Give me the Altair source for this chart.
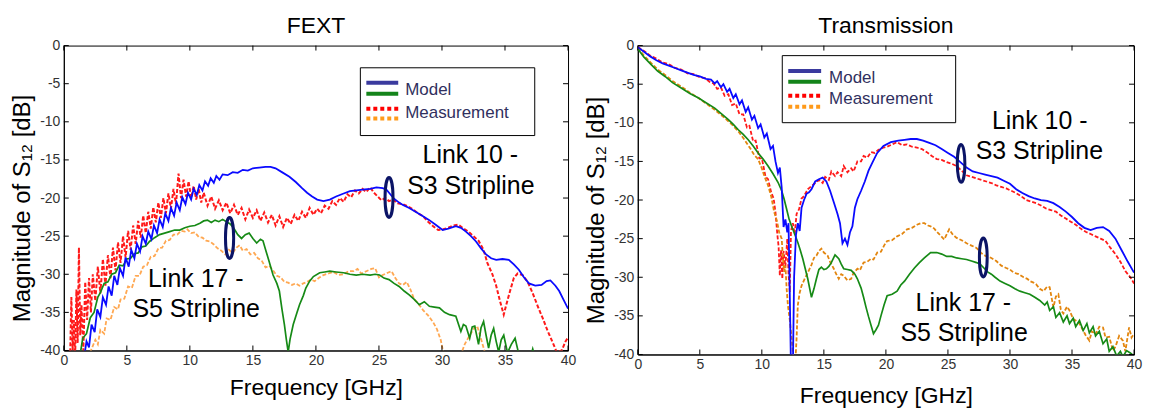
import altair as alt
import pandas as pd

FONT = "Liberation Sans"

# ---------------- data (frequency GHz, magnitude dB) ----------------
X_TICKS = [0, 5, 10, 15, 20, 25, 30, 35, 40]
Y_TICKS = [0, -5, -10, -15, -20, -25, -30, -35, -40]

FEXT_L10_MODEL = [
    (1.6, -41), (1.8, -38.8), (2.0, -39.6), (2.2, -36.6), (2.45, -37.6), (2.65, -34.6), (2.9, -35.6),
    (3.1, -33.0), (3.35, -34.0), (3.55, -31.6), (3.8, -32.8), (4.0, -30.2), (4.25, -31.4), (4.45, -29.2),
    (4.7, -30.2), (4.9, -27.8), (5.15, -29.0), (5.35, -26.8), (5.6, -27.9), (5.8, -26.0), (6.05, -27.0),
    (6.25, -25.0), (6.5, -26.0), (6.7, -24.4), (6.95, -25.4), (7.15, -23.6), (7.4, -24.6), (7.6, -22.8),
    (7.85, -23.8), (8.05, -22.0), (8.3, -23.0), (8.5, -21.3), (8.75, -22.3), (8.95, -20.6), (9.2, -21.6),
    (9.4, -19.9), (9.65, -20.8), (9.85, -19.3), (10.1, -20.2), (10.3, -18.8), (10.55, -19.6), (10.75, -18.3),
    (11.0, -19.0), (11.2, -17.8), (11.45, -18.4), (11.65, -17.4), (11.9, -18.0), (12.1, -17.1), (12.35, -17.6),
    (12.6, -16.9), (13.0, -17.0), (13.4, -16.6), (13.8, -16.7), (14.2, -16.3), (14.6, -16.4), (15.0, -16.1),
    (15.5, -16.0), (16.0, -15.9), (16.4, -15.9), (16.8, -16.1), (17.3, -16.6), (17.9, -17.2), (18.4, -17.9),
    (18.9, -18.7), (19.3, -19.3), (19.7, -19.8), (20.1, -20.2), (20.6, -20.4), (21.1, -20.2), (21.6, -19.8),
    (22.2, -19.4), (22.7, -19.1), (23.2, -19.0), (23.7, -18.9), (24.3, -18.8), (24.8, -18.6), (25.3, -18.7),
    (25.6, -18.9), (25.9, -19.5), (26.2, -20.1), (26.6, -20.6), (26.9, -20.9), (27.4, -21.3), (27.9, -21.8),
    (28.4, -22.3), (29.0, -22.9), (29.5, -23.5), (30.05, -24.2), (30.5, -24.0), (31.1, -23.7), (31.5, -23.9),
    (31.9, -24.4), (32.3, -25.0), (32.7, -25.7), (33.1, -26.6), (33.5, -27.4), (33.9, -27.9), (34.3, -28.1),
    (34.8, -28.0), (35.3, -28.1), (35.7, -28.7), (36.1, -29.4), (36.5, -30.4), (36.9, -31.2), (37.4, -31.5),
    (37.9, -31.4), (38.3, -30.9), (38.6, -30.8), (39.0, -31.5), (39.3, -32.2), (39.6, -33.2), (40.0, -34.5),
]

FEXT_L10_MEAS = [
    (0.5, -41), (0.6, -33), (0.7, -40), (0.8, -36), (0.9, -41), (1.0, -32), (1.1, -39), (1.2, -26.5),
    (1.3, -38), (1.4, -34), (1.55, -40), (1.7, -31), (1.85, -36), (2.0, -30.5), (2.15, -35), (2.3, -30),
    (2.5, -33.5), (2.7, -29), (2.9, -32.5), (3.1, -28), (3.3, -31.5), (3.5, -27.5), (3.7, -30.5), (3.9, -26.5),
    (4.1, -29.5), (4.3, -25.8), (4.5, -28.5), (4.7, -25.0), (4.9, -27.8), (5.1, -24.3), (5.3, -26.8),
    (5.5, -23.6), (5.7, -26.0), (5.9, -23.0), (6.1, -25.2), (6.3, -22.3), (6.5, -24.6), (6.7, -21.8),
    (6.9, -24.0), (7.1, -21.2), (7.3, -23.2), (7.5, -20.6), (7.7, -22.6), (7.9, -20.0), (8.1, -22.0),
    (8.3, -19.4), (8.5, -21.4), (8.7, -18.8), (8.9, -20.8), (9.1, -16.8), (9.3, -20.0), (9.5, -17.6),
    (9.7, -19.8), (9.9, -17.8), (10.1, -20.0), (10.3, -18.4), (10.5, -20.2), (10.7, -18.8), (10.9, -20.6),
    (11.1, -19.3), (11.4, -21.0), (11.7, -19.8), (12.0, -21.4), (12.3, -20.3), (12.6, -21.6), (12.9, -20.6),
    (13.2, -22.0), (13.5, -20.9), (13.8, -22.2), (14.1, -21.3), (14.4, -22.8), (14.7, -21.5), (15.0, -22.6),
    (15.3, -21.6), (15.6, -23.0), (15.9, -21.9), (16.2, -23.2), (16.5, -22.2), (16.8, -23.6), (17.1, -22.4),
    (17.4, -23.8), (17.7, -22.6), (18.0, -23.4), (18.3, -22.2), (18.6, -23.0), (18.9, -21.8), (19.2, -22.6),
    (19.5, -21.3), (19.8, -22.2), (20.1, -21.4), (20.4, -22.0), (20.7, -21.0), (21.0, -21.4), (21.3, -20.4),
    (21.6, -20.9), (21.9, -20.0), (22.2, -20.5), (22.5, -19.5), (22.8, -19.9), (23.1, -19.0), (23.4, -19.4),
    (23.7, -18.8), (24.0, -19.2), (24.3, -18.6), (24.6, -19.3), (24.9, -19.8), (25.2, -20.3), (25.5, -20.0),
    (25.8, -20.4), (26.1, -20.2), (26.5, -20.7), (26.9, -20.8), (27.3, -21.1), (27.7, -21.5), (28.1, -22.0),
    (28.5, -22.4), (28.9, -23.1), (29.3, -23.7), (29.7, -24.2), (30.1, -24.1), (30.5, -23.9), (30.9, -23.6),
    (31.3, -23.5), (31.7, -24.0), (32.1, -24.4), (32.5, -25.0), (32.9, -25.6), (33.3, -26.8), (33.6, -28.5),
    (34.0, -30.0), (34.3, -31.5), (34.6, -33.5), (34.9, -35.3), (35.1, -34.0), (35.4, -32.2), (35.7, -30.5),
    (36.0, -29.9), (36.4, -30.1), (36.8, -31.0), (37.2, -32.5), (37.6, -34.2), (38.0, -35.8), (38.4, -37.5),
    (38.8, -39.0), (39.1, -40.2), (39.5, -40.0), (39.8, -38.8), (40.0, -38.3),
]

FEXT_L17_MODEL = [
    (1.3, -40.5), (1.5, -38.4), (1.8, -37.8), (2.1, -35.7), (2.4, -35.0), (2.7, -33.0), (2.9, -32.4),
    (3.2, -31.2), (3.5, -31.0), (3.8, -30.0), (4.1, -29.8), (4.4, -28.8), (4.7, -28.9), (5.0, -28.0),
    (5.3, -27.9), (5.6, -27.3), (5.9, -27.2), (6.2, -26.4), (6.5, -26.3), (6.8, -25.7), (7.2, -25.2),
    (7.6, -24.8), (8.0, -24.6), (8.4, -24.4), (8.8, -24.2), (9.2, -24.2), (9.6, -23.9), (10.0, -23.7),
    (10.4, -23.6), (10.8, -23.3), (11.1, -23.0), (11.4, -22.9), (11.7, -23.2), (12.0, -22.9), (12.3, -23.1),
    (12.6, -22.8), (12.9, -23.1), (13.2, -23.4), (13.5, -24.0), (13.8, -24.8), (14.1, -25.3), (14.4, -24.8),
    (14.7, -24.6), (15.0, -25.3), (15.3, -25.9), (15.6, -25.4), (15.8, -25.6), (16.05, -27.0), (16.3, -28.4),
    (16.6, -30.1), (16.9, -31.2), (17.1, -32.2), (17.3, -34.5), (17.5, -36.6), (17.65, -38.5), (17.8, -40.2),
    (17.95, -38.5), (18.2, -36.6), (18.5, -35.0), (18.7, -34.0), (19.0, -32.8), (19.2, -31.8), (19.5, -30.9),
    (19.8, -30.3), (20.3, -29.8), (20.7, -29.7), (21.1, -29.6), (21.6, -29.7), (22.2, -29.8), (22.7, -30.0),
    (23.2, -30.1), (23.7, -30.0), (24.3, -30.1), (24.7, -30.0), (25.05, -30.1), (25.4, -30.5), (25.8, -30.7),
    (26.2, -31.2), (26.6, -31.6), (27.0, -32.2), (27.4, -32.7), (27.8, -33.3), (28.2, -34.0), (28.6, -33.6),
    (29.0, -34.2), (29.4, -34.3), (29.8, -34.4), (30.2, -35.0), (30.6, -35.3), (31.1, -35.5), (31.5, -37.5),
    (31.7, -36.6), (31.9, -36.8), (32.2, -38.4), (32.4, -36.9), (32.6, -36.8), (32.9, -39.2), (33.1, -37.0),
    (33.3, -36.2), (33.5, -38.0), (33.7, -39.7), (33.9, -38.0), (34.1, -37.1), (34.3, -38.8), (34.5, -40.2),
    (34.7, -38.6), (34.9, -38.0), (35.2, -40.3), (35.5, -39.2), (35.8, -38.4), (36.1, -40.5), (36.4, -41),
    (37.0, -41), (37.2, -39.8), (37.4, -41), (38.0, -42), (40.0, -42),
]

FEXT_L17_MEAS = [
    (1.9, -41), (2.2, -39.8), (2.5, -38.6), (2.7, -39.2), (2.9, -37.3), (3.2, -37.8), (3.4, -35.8),
    (3.7, -36.0), (4.0, -34.3), (4.3, -34.6), (4.5, -33.3), (4.8, -33.2), (5.1, -31.6), (5.4, -31.8),
    (5.7, -30.2), (6.0, -30.2), (6.3, -29.0), (6.6, -28.8), (6.9, -27.7), (7.2, -27.6), (7.5, -26.6),
    (7.8, -26.5), (8.1, -25.6), (8.4, -25.5), (8.7, -24.8), (9.0, -24.8), (9.3, -24.3), (9.6, -24.4),
    (9.8, -24.1), (10.1, -24.6), (10.4, -24.5), (10.7, -25.1), (11.0, -25.2), (11.3, -25.6), (11.6, -25.7),
    (11.9, -26.1), (12.2, -26.6), (12.5, -26.9), (12.8, -27.4), (13.1, -26.8), (13.4, -27.2), (13.7, -26.5),
    (13.95, -26.2), (14.2, -26.9), (14.5, -26.7), (14.8, -27.4), (15.1, -27.2), (15.4, -27.9), (15.7, -28.2),
    (16.0, -29.1), (16.3, -28.9), (16.6, -29.5), (16.9, -30.2), (17.2, -30.4), (17.5, -31.0), (17.8, -31.1),
    (18.1, -31.4), (18.4, -31.2), (18.7, -31.5), (19.0, -31.2), (19.3, -31.0), (19.6, -30.7), (19.9, -30.9),
    (20.3, -30.4), (20.6, -30.1), (21.0, -29.9), (21.4, -29.7), (21.8, -30.1), (22.2, -30.0), (22.6, -29.6),
    (23.0, -29.6), (23.3, -29.3), (23.6, -29.9), (24.0, -29.6), (24.4, -29.3), (24.7, -29.2), (25.0, -30.4),
    (25.3, -30.1), (25.7, -29.8), (26.0, -29.6), (26.3, -30.5), (26.6, -31.2), (26.9, -31.4), (27.2, -31.0),
    (27.5, -32.0), (27.8, -33.3), (28.1, -33.8), (28.5, -34.7), (28.9, -35.4), (29.3, -36.3), (29.6, -37.2),
    (29.9, -38.6), (30.1, -40.2), (30.5, -41), (31.0, -40.6), (31.4, -41), (31.8, -39.2), (32.2, -38.0),
    (32.5, -37.2), (32.8, -36.8), (33.1, -38.5), (33.4, -40.2), (33.8, -41), (40.0, -41),
]

TRANS_L10_MODEL = [
    (0.0, -0.2), (0.5, -0.8), (1.0, -1.4), (1.5, -1.9), (2.0, -2.3), (2.5, -2.6), (3.0, -2.9), (3.5, -3.2),
    (4.0, -3.5), (4.5, -3.8), (5.0, -4.0), (5.5, -4.3), (5.9, -4.4), (6.2, -4.9), (6.4, -4.6), (6.7, -5.4),
    (6.9, -5.0), (7.2, -6.0), (7.4, -5.6), (7.7, -6.8), (7.9, -6.3), (8.2, -7.6), (8.4, -7.1), (8.7, -8.6),
    (8.9, -8.0), (9.2, -9.6), (9.4, -9.1), (9.7, -10.7), (9.9, -10.2), (10.2, -11.9), (10.4, -11.4),
    (10.7, -13.4), (10.9, -13.0), (11.1, -15.0), (11.3, -16.5), (11.45, -15.8), (11.6, -18.4), (11.75, -23.5),
    (11.9, -22.5), (12.05, -24.2), (12.15, -23.0), (12.25, -32), (12.35, -42), (12.5, -42), (12.6, -30),
    (12.75, -24.5), (12.9, -23.0), (13.05, -24.0), (13.2, -21.0), (13.4, -20.0), (13.6, -19.2), (13.8, -19.0),
    (14.0, -18.6), (14.3, -17.6), (14.6, -17.3), (14.9, -17.1), (15.2, -17.6), (15.5, -18.8), (15.8, -20.3),
    (16.1, -21.8), (16.3, -23.0), (16.5, -25.6), (16.7, -25.0), (16.9, -25.8), (17.1, -24.2), (17.3, -23.4),
    (17.5, -21.0), (17.7, -19.9), (18.0, -18.8), (18.3, -17.6), (18.6, -16.2), (18.9, -15.2), (19.3, -13.9),
    (19.8, -13.0), (20.4, -12.5), (21.0, -12.3), (21.5, -12.2), (22.0, -12.1), (22.5, -12.1), (23.0, -12.3),
    (23.5, -12.6), (24.0, -12.9), (24.5, -13.4), (25.0, -13.9), (25.5, -14.4), (26.0, -15.1), (26.5, -15.8),
    (27.0, -16.3), (27.5, -16.5), (28.0, -16.7), (28.5, -16.9), (29.0, -17.1), (29.5, -17.5), (30.0, -17.9),
    (30.5, -18.6), (31.0, -19.1), (31.5, -19.5), (32.0, -19.8), (32.5, -20.0), (33.0, -20.1), (33.5, -20.4),
    (34.0, -20.9), (34.5, -21.5), (35.0, -22.2), (35.5, -23.0), (36.0, -23.6), (36.5, -23.9), (37.0, -23.6),
    (37.5, -23.5), (38.0, -24.0), (38.5, -25.0), (39.0, -26.5), (39.5, -28.0), (40.0, -29.4),
]

TRANS_L10_MEAS = [
    (0.0, -0.2), (0.5, -0.7), (1.0, -1.3), (1.5, -1.7), (2.0, -2.2), (2.5, -2.4), (3.0, -2.9), (3.5, -3.1),
    (4.0, -3.6), (4.5, -3.7), (5.0, -4.1), (5.4, -4.2), (5.8, -4.7), (6.1, -4.9), (6.4, -5.6), (6.7, -5.4),
    (7.0, -6.5), (7.3, -6.3), (7.6, -7.7), (7.9, -7.5), (8.2, -8.9), (8.5, -8.9), (8.8, -10.6), (9.0, -10.4),
    (9.3, -12.4), (9.5, -12.3), (9.8, -14.6), (10.0, -14.6), (10.3, -17.0), (10.5, -17.3), (10.75, -19.0),
    (10.95, -19.8), (11.1, -21.6), (11.25, -24.5), (11.35, -26), (11.45, -29.8), (11.55, -26.5), (11.65, -30.2),
    (11.75, -26.6), (11.9, -28.6), (12.05, -25.0), (12.15, -29.5), (12.25, -31.9), (12.35, -24.0), (12.5, -23.0),
    (12.65, -24.4), (12.8, -21.8), (13.0, -21.2), (13.2, -19.8), (13.4, -19.5), (13.7, -18.6), (14.0, -18.2),
    (14.3, -17.8), (14.6, -17.4), (14.9, -17.8), (15.1, -17.0), (15.4, -17.4), (15.6, -16.3), (15.9, -16.9),
    (16.1, -16.4), (16.4, -16.9), (16.6, -15.6), (16.9, -16.4), (17.2, -15.9), (17.4, -16.3), (17.7, -15.0),
    (18.0, -15.0), (18.2, -14.3), (18.5, -14.5), (18.8, -13.8), (19.1, -13.9), (19.4, -13.5), (19.8, -13.2),
    (20.1, -13.1), (20.5, -12.8), (20.9, -12.5), (21.3, -12.9), (21.7, -12.8), (22.1, -13.1), (22.5, -13.2),
    (22.9, -13.4), (23.3, -13.8), (23.7, -14.3), (24.1, -14.7), (24.5, -14.8), (24.9, -15.1), (25.3, -15.3),
    (25.7, -15.6), (26.1, -16.2), (26.5, -16.8), (26.9, -17.0), (27.3, -17.2), (27.7, -17.4), (28.1, -17.6),
    (28.5, -17.8), (28.9, -18.1), (29.3, -18.3), (29.7, -18.5), (30.1, -18.8), (30.5, -19.1), (30.9, -19.5),
    (31.3, -20.0), (31.7, -20.2), (32.1, -20.4), (32.5, -20.7), (32.9, -21.1), (33.3, -21.3), (33.7, -21.5),
    (34.1, -22.0), (34.5, -22.4), (34.9, -22.8), (35.3, -23.2), (35.7, -23.7), (36.1, -24.1), (36.5, -24.4),
    (36.9, -24.7), (37.3, -25.0), (37.7, -25.3), (38.1, -26.2), (38.5, -27.0), (38.9, -28.0), (39.3, -29.2),
    (39.7, -30.0), (40.0, -30.8),
]

TRANS_L17_MODEL = [
    (0.0, -0.4), (0.5, -1.5), (1.1, -2.5), (1.6, -3.3), (2.2, -4.0), (2.8, -4.8), (3.5, -5.5), (4.2, -6.2),
    (4.9, -6.8), (5.5, -7.4), (6.2, -8.1), (6.8, -8.9), (7.3, -9.6), (7.7, -10.2), (8.1, -10.9), (8.5, -11.5),
    (8.9, -12.2), (9.3, -13.0), (9.7, -13.9), (10.1, -14.7), (10.5, -15.6), (10.9, -16.6), (11.3, -17.7),
    (11.6, -18.8), (11.8, -19.9), (12.0, -21.2), (12.2, -22.5), (12.4, -23.4), (12.6, -24.2), (12.9, -25.5),
    (13.1, -26.5), (13.3, -27.6), (13.5, -28.9), (13.7, -30.2), (14.0, -32.6), (14.2, -31.5), (14.4, -30.2),
    (14.6, -29.0), (14.8, -28.7), (15.0, -29.0), (15.2, -28.9), (15.4, -28.6), (15.6, -28.1), (15.9, -27.1),
    (16.2, -27.6), (16.4, -28.3), (16.6, -28.9), (16.9, -29.0), (17.2, -29.1), (17.5, -29.6), (17.7, -30.2),
    (18.0, -31.4), (18.2, -32.6), (18.4, -33.9), (18.6, -35.1), (18.8, -36.2), (19.0, -37.3), (19.2, -36.8),
    (19.4, -36.2), (19.6, -35.0), (19.85, -33.6), (20.1, -32.4), (20.5, -32.2), (20.9, -31.8), (21.2, -31.0),
    (21.5, -30.5), (21.9, -29.6), (22.3, -28.8), (22.7, -28.1), (23.1, -27.5), (23.6, -26.8), (24.1, -26.8),
    (24.5, -27.0), (24.9, -27.3), (25.3, -27.3), (25.7, -27.5), (26.1, -27.6), (26.5, -27.7), (26.9, -27.9),
    (27.3, -28.1), (27.6, -28.3), (27.9, -28.8), (28.2, -29.3), (28.5, -29.6), (28.8, -30.0), (29.2, -30.5),
    (29.6, -30.8), (30.0, -31.1), (30.4, -31.5), (30.8, -31.8), (31.2, -32.0), (31.6, -32.2), (32.0, -32.6),
    (32.4, -33.0), (32.8, -33.6), (33.0, -33.2), (33.2, -34.3), (33.5, -33.8), (33.7, -35.2), (34.0, -34.6),
    (34.3, -35.8), (34.6, -35.0), (34.8, -36.0), (35.1, -35.3), (35.3, -36.4), (35.6, -35.6), (35.9, -36.9),
    (36.2, -36.0), (36.4, -37.2), (36.7, -36.4), (36.9, -37.6), (37.2, -37.0), (37.5, -38.6), (37.8, -38.0),
    (38.0, -39.6), (38.3, -39.0), (38.6, -40.2), (38.9, -39.6), (39.1, -40.3), (39.4, -39.5), (39.7, -39.8),
    (40.0, -40.2),
]

TRANS_L17_MEAS = [
    (0.0, -0.3), (0.5, -1.3), (1.1, -2.3), (1.6, -3.1), (2.2, -3.8), (2.8, -4.6), (3.5, -5.3), (4.2, -6.1),
    (4.9, -6.8), (5.5, -7.5), (6.2, -8.3), (6.8, -9.1), (7.3, -9.8), (7.7, -10.4), (8.1, -11.1), (8.6, -12.2),
    (9.1, -13.4), (9.4, -14.2), (9.7, -14.7), (10.0, -15.9), (10.2, -16.9), (10.5, -18.1), (10.75, -19.5),
    (11.0, -21.6), (11.2, -22.6), (11.4, -24.2), (11.6, -25.0), (11.7, -27.5), (11.8, -29.3), (11.9, -28.5),
    (12.0, -31.5), (12.1, -33.6), (12.25, -35.5), (12.4, -37.9), (12.55, -40.5), (12.7, -41), (12.8, -37.9),
    (12.9, -33.6), (13.05, -32.0), (13.2, -31.1), (13.45, -30.2), (13.7, -29.4), (14.0, -28.4), (14.2, -27.5),
    (14.4, -27.2), (14.6, -26.6), (14.8, -26.3), (15.0, -26.8), (15.3, -27.2), (15.5, -28.0), (15.8, -28.9),
    (16.0, -29.6), (16.2, -30.2), (16.4, -29.6), (16.6, -29.8), (16.9, -30.4), (17.2, -30.2), (17.4, -29.4),
    (17.7, -28.9), (17.9, -29.1), (18.2, -28.1), (18.5, -28.0), (18.8, -27.6), (19.0, -27.7), (19.3, -26.8),
    (19.6, -26.7), (19.85, -25.9), (20.1, -25.3), (20.5, -25.2), (20.9, -24.7), (21.3, -24.4), (21.7, -23.8),
    (22.1, -23.6), (22.5, -23.2), (22.8, -23.0), (23.1, -23.0), (23.4, -23.3), (23.6, -23.4), (23.9, -23.7),
    (24.1, -24.1), (24.4, -24.6), (24.7, -25.1), (25.1, -23.8), (25.4, -24.5), (25.7, -24.9), (26.1, -25.2),
    (26.5, -25.6), (26.9, -25.9), (27.3, -26.2), (27.7, -26.9), (28.1, -27.3), (28.5, -27.5), (28.9, -27.9),
    (29.3, -28.5), (29.7, -28.8), (30.0, -29.0), (30.3, -29.4), (30.7, -29.6), (31.1, -30.0), (31.4, -30.2),
    (31.6, -30.5), (31.9, -30.7), (32.1, -30.9), (32.4, -31.5), (32.7, -31.8), (33.0, -31.2), (33.2, -31.3),
    (33.5, -33.9), (33.7, -32.5), (33.9, -32.2), (34.1, -34.2), (34.3, -34.7), (34.6, -33.8), (34.8, -34.3),
    (35.1, -35.4), (35.3, -35.6), (35.6, -36.0), (35.9, -36.9), (36.1, -37.5), (36.4, -38.2), (36.6, -37.0),
    (36.9, -37.4), (37.2, -36.4), (37.5, -36.5), (37.7, -37.8), (38.0, -37.7), (38.3, -39.5), (38.5, -39.0),
    (38.8, -37.6), (39.1, -38.2), (39.3, -39.6), (39.6, -36.5), (39.8, -37.8), (40.0, -37.3),
]

# annotation labels and their anchor points (GHz, dB)
FEXT_LABELS = ["Link 10 -", "S3 Stripline", "Link 17 -", "S5 Stripline"]
FEXT_LABEL_F = [32.25, 32.29, 10.47, 10.5]
FEXT_LABEL_DB = [-14.3, -18.45, -30.6, -34.6]
TRANS_LABELS = ["Link 10 -", "S3 Stripline", "Link 17 -", "S5 Stripline"]
TRANS_LABEL_F = [32.4, 32.37, 26.24, 26.3]
TRANS_LABEL_DB = [-9.78, -13.65, -33.3, -37.27]

# ellipse markers (GHz, dB)
FEXT_ELLIPSE_F = [25.8, 13.15]
FEXT_ELLIPSE_DB = [-19.93, -25.24]
TRANS_ELLIPSE_F = [26.06, 27.85]
TRANS_ELLIPSE_DB = [-15.26, -27.44]

LEGEND_LABELS = ["Model", "Measurement"]

# ---------------- chart ----------------
ELLIPSE = ("M0,-1 C0.11,-1 0.2,-0.5523 0.2,0 C0.2,0.5523 0.11,1 0,1 "
           "C-0.11,1 -0.2,0.5523 -0.2,0 C-0.2,-0.5523 -0.11,-1 0,-1 Z")

Y_TITLE = "Magnitude of S\u2081\u2082  [dB]"


def make_axes(title_y, x_title_pad):
    xa = alt.Axis(values=X_TICKS, title="Frequency [GHz]", labelExpr="datum.value + ''",
                  labelFlush=False, titlePadding=x_title_pad)
    ya = alt.Axis(values=Y_TICKS, title=Y_TITLE, labelExpr="datum.value + ''", titleY=title_y)
    return xa, ya


def panel(title, W, H, title_y, x_title_pad, series, labels, lf, ldb, ef, edb, esizes, leg):
    xa, ya = make_axes(title_y, x_title_pad)

    def X():
        return alt.X("f:Q", scale=alt.Scale(domain=[0, 40], nice=False, zero=False), axis=xa)

    def Y():
        return alt.Y("db:Q", scale=alt.Scale(domain=[-40, 0], nice=False, zero=False), axis=ya)

    one = pd.DataFrame({"k": [0]})
    layers = []
    for s, c, w, d in series:
        df = pd.DataFrame(s, columns=["f", "db"])
        kw = dict(color=c, strokeWidth=w, clip=True)
        if d:
            kw["strokeDash"] = d
        layers.append(alt.Chart(df).mark_line(**kw).encode(x=X(), y=Y()))
    # inward ticks (matlab box style)
    tx = pd.DataFrame({"f": X_TICKS})
    ty = pd.DataFrame({"db": Y_TICKS})
    tick = dict(color="black", strokeWidth=1)
    layers += [
        alt.Chart(tx).mark_rule(**tick).encode(x=X(), y=alt.value(H), y2=alt.value(H - 5)),
        alt.Chart(tx).mark_rule(**tick).encode(x=X(), y=alt.value(0), y2=alt.value(5)),
        alt.Chart(ty).mark_rule(**tick).encode(y=Y(), x=alt.value(0), x2=alt.value(5)),
        alt.Chart(ty).mark_rule(**tick).encode(y=Y(), x=alt.value(W), x2=alt.value(W - 5)),
    ]
    # annotations
    ann = pd.DataFrame({"f": lf, "db": ldb, "t": labels})
    layers.append(alt.Chart(ann).mark_text(font=FONT, fontSize=25, color="black", align="center",
                                           baseline="middle").encode(x=X(), y=Y(), text="t:N"))
    for i in range(len(ef)):
        e = pd.DataFrame({"f": [ef[i]], "db": [edb[i]]})
        layers.append(alt.Chart(e).mark_point(shape=ELLIPSE, size=esizes[i], filled=False,
                                              stroke="#0b1466", strokeWidth=3, opacity=1)
                      .encode(x=X(), y=Y()))
    # legend box
    bx0, bx1, by0, by1, lx0, lx1, ly, tx0, ty0 = leg
    layers.append(alt.Chart(one).mark_rect(fill="white", stroke="black", strokeWidth=1)
                  .encode(x=alt.value(bx0), x2=alt.value(bx1), y=alt.value(by0), y2=alt.value(by1)))
    samples = [("#3a3a9e", None), ("#14841a", None), ("#ff0000", [4, 3]), ("#ff9a1a", [4, 3])]
    for (c, d), yy in zip(samples, ly):
        kw = dict(color=c, strokeWidth=4)
        if d:
            kw["strokeDash"] = d
        layers.append(alt.Chart(one).mark_rule(**kw)
                      .encode(x=alt.value(lx0), x2=alt.value(lx1), y=alt.value(yy)))
    for lab, yy in zip(LEGEND_LABELS, ty0):
        layers.append(alt.Chart(one).mark_text(text=lab, font=FONT, fontSize=17, color="#30305e",
                                               align="left", baseline="middle")
                      .encode(x=alt.value(tx0), y=alt.value(yy)))
    return alt.layer(*layers).properties(
        width=W, height=H,
        title=alt.TitleParams(title, font=FONT, fontSize=23, fontWeight="normal", color="black", offset=1),
    )


left = panel(
    "FEXT", 506, 306, 163, 9,
    [(FEXT_L10_MEAS, "#ff1a1a", 2, [4, 2]), (FEXT_L17_MEAS, "#ffa852", 1.8, [4, 2]),
     (FEXT_L17_MODEL, "#168a16", 1.7, None), (FEXT_L10_MODEL, "#0a0aff", 1.8, None)],
    FEXT_LABELS, FEXT_LABEL_F, FEXT_LABEL_DB,
    FEXT_ELLIPSE_F, FEXT_ELLIPSE_DB, [1600, 1681],
    (297.6, 472.6, 22.3, 90.3, 303.6, 335.6, [37.3, 48.3, 63.3, 73.3], 342.6, [44.6, 67.5]),
)

right = panel(
    "Transmission", 498, 310, 165, 13,
    [(TRANS_L10_MEAS, "#ff1a1a", 1.8, [4, 2]), (TRANS_L17_MEAS, "#e3860f", 1.8, [4, 2]),
     (TRANS_L17_MODEL, "#168a16", 1.7, None), (TRANS_L10_MODEL, "#0a0aff", 1.8, None)],
    TRANS_LABELS, TRANS_LABEL_F, TRANS_LABEL_DB,
    TRANS_ELLIPSE_F, TRANS_ELLIPSE_DB, [1444, 1521],
    (145, 319, 10.1, 77.4, 151, 184, [25.4, 36.4, 50.4, 61.4], 192, [32.2, 53.9]),
)

chart = alt.hconcat(left, right, spacing=7).properties(
    padding={"left": 2, "top": 5, "right": 0, "bottom": 0}
).configure_view(
    stroke="black", strokeWidth=1
).configure_axis(
    labelFont=FONT, titleFont=FONT, labelFontSize=14, titleFontWeight="normal",
    labelColor="#333333", titleColor="black", domainColor="black", domainWidth=1,
    grid=False, ticks=False,
).configure_axisX(
    labelPadding=3, titleFontSize=23,
).configure_axisY(
    labelPadding=4, titlePadding=5, titleFontSize=24,
)

chart.save("out.html", embed_options={"renderer": "svg", "actions": False})
